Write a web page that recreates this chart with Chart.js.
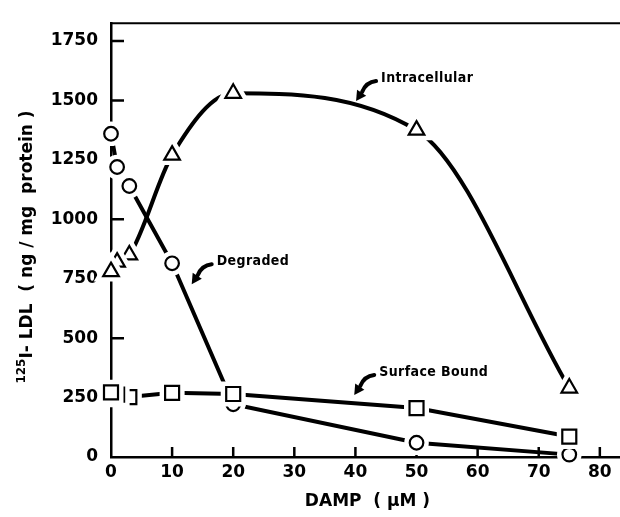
<!DOCTYPE html>
<html>
<head>
<meta charset="utf-8">
<title>125I-LDL vs DAMP</title>
<script src="https://cdn.jsdelivr.net/npm/chart.js@4"></script>
<style>
  html, body { margin: 0; padding: 0; background: #fff; }
  #c { display: block; }
</style>
</head>
<body>
<canvas id="c" width="620" height="517"></canvas>
<script>
// data
const dampX = [0, 1, 3, 10, 20, 50, 75];
const intracellular = [780, 820, 850, 1270, 1530, 1375, 290];
const degraded = [1360, 1220, 1140, 815, 222, 60, 10];
const surfaceBound = [272, 262, 252, 270, 265, 206, 86];
const xTicks = [0, 10, 20, 30, 40, 50, 60, 70, 80];
const yTicks = [0, 250, 500, 750, 1000, 1250, 1500, 1750];
// curve labels: text, x, y (data units, left / middle of the text)
const curveLabels = [
    ['Intracellular', 44.2, 1594],
    ['Degraded', 17.3, 824],
    ['Surface Bound', 43.9, 358]
];

const FONT = '"DejaVu Sans", sans-serif';
const LABEL_FONT = 'bold 14px "DejaVu Sans Condensed", "DejaVu Sans", sans-serif';

function pts(ys) {
    return dampX.map((x, i) => ({ x: x, y: ys[i] }));
}

function shape(ctx, style, x, y) {
    ctx.beginPath();
    if (style === 'circle') {
        ctx.arc(x, y, 6.8, 0, Math.PI * 2);
    } else if (style === 'rect') {
        ctx.rect(x - 7, y - 7, 14, 14);
    } else {
        const r = 9;
        ctx.moveTo(x, y - r);
        ctx.lineTo(x + r * 0.866, y + r / 2);
        ctx.lineTo(x - r * 0.866, y + r / 2);
        ctx.closePath();
    }
}

function arrow(ctx, tx, ty) {
    const sx = tx - 5, sy = ty + 3;
    const ex = tx - 19, ey = ty + 14;
    const px = tx - 25, py = ty + 23;
    ctx.lineWidth = 4;
    ctx.lineCap = 'round';
    ctx.beginPath();
    ctx.moveTo(sx, sy);
    ctx.quadraticCurveTo(tx - 15, ty + 4, ex, ey);
    ctx.stroke();
    const dx = px - ex, dy = py - ey, len = Math.hypot(dx, dy);
    const ux = dx / len, uy = dy / len;
    const bx = px - ux * 10, by = py - uy * 10;
    ctx.beginPath();
    ctx.moveTo(px, py);
    ctx.lineTo(bx - uy * 5.5, by + ux * 5.5);
    ctx.lineTo(bx + uy * 5.5, by - ux * 5.5);
    ctx.closePath();
    ctx.fill();
}

const deco = {
    id: 'deco',
    beforeDatasetsDraw(chart) {
        const { ctx, chartArea: a, scales: { x, y } } = chart;
        ctx.save();
        ctx.strokeStyle = '#000';
        ctx.lineWidth = 2;
        ctx.beginPath();
        ctx.moveTo(a.left - 1, a.top);
        ctx.lineTo(a.right, a.top);
        ctx.stroke();
        // inward tick marks
        ctx.lineWidth = 2.5;
        ctx.beginPath();
        xTicks.forEach(v => {
            if (!v) return;
            const p = x.getPixelForValue(v);
            ctx.moveTo(p, a.bottom);
            ctx.lineTo(p, a.bottom - 10);
        });
        yTicks.forEach(v => {
            if (!v) return;
            const p = y.getPixelForValue(v);
            ctx.moveTo(a.left, p);
            ctx.lineTo(a.left + 13, p);
        });
        ctx.stroke();
        ctx.restore();
    },
    afterDatasetsDraw(chart) {
        const { ctx, chartArea: a, scales: { x, y } } = chart;
        ctx.save();
        // markers, each with a white halo so lines stop short of them
        chart.data.datasets.forEach((ds, i) => {
            const els = chart.getDatasetMeta(i).data.slice().reverse();
            els.forEach(el => {
                ctx.fillStyle = '#fff';
                ctx.strokeStyle = '#fff';
                ctx.lineWidth = 11;
                shape(ctx, ds.marker, el.x, el.y);
                ctx.fill();
                ctx.stroke();
                ctx.strokeStyle = '#000';
                ctx.lineWidth = 2.2;
                shape(ctx, ds.marker, el.x, el.y);
                ctx.fill();
                ctx.stroke();
            });
        });
        // curve labels with arrows
        ctx.fillStyle = '#000';
        ctx.strokeStyle = '#000';
        ctx.font = LABEL_FONT;
        ctx.letterSpacing = '0.4px';
        ctx.textBaseline = 'middle';
        ctx.textAlign = 'left';
        curveLabels.forEach(([t, vx, vy]) => {
            const tx = x.getPixelForValue(vx), ty = y.getPixelForValue(vy);
            ctx.fillText(t, tx, ty);
            arrow(ctx, tx, ty);
        });
        ctx.letterSpacing = '0px';
        // axis titles
        ctx.font = 'bold 17px ' + FONT;
        ctx.textAlign = 'center';
        ctx.fillText('DAMP  ( \u03bcM )', (a.left + a.right) / 2 + 2, 502);

        ctx.translate(28, 247);
        ctx.rotate(-Math.PI / 2);
        const sup = '125', main = 'I- LDL  ( ng / mg  protein )';
        ctx.font = 'bold 12px ' + FONT;
        const wSup = ctx.measureText(sup).width;
        ctx.font = 'bold 17px ' + FONT;
        const wMain = ctx.measureText(main).width;
        const start = -(wSup + wMain) / 2;
        ctx.textAlign = 'left';
        ctx.fillText(main, start + wSup, 0);
        ctx.font = 'bold 12px ' + FONT;
        ctx.fillText(sup, start, -6);
        ctx.restore();
    }
};

const tickFont = { family: FONT, size: 17, weight: 'bold' };

new Chart(document.getElementById('c'), {
    type: 'scatter',
    data: {
        datasets: [
            { label: 'Intracellular', data: pts(intracellular), marker: 'triangle', cubicInterpolationMode: 'monotone' },
            { label: 'Degraded', data: pts(degraded), marker: 'circle', tension: 0 },
            { label: 'Surface Bound', data: pts(surfaceBound), marker: 'rect', tension: 0 }
        ].map(d => Object.assign({
            showLine: true,
            borderColor: '#000',
            borderWidth: 4,
            pointRadius: 0,
            pointHoverRadius: 0,
            clip: false
        }, d))
    },
    options: {
        responsive: false,
        animation: false,
        devicePixelRatio: 1,
        layout: { padding: { top: 14, right: 0, left: 0, bottom: 0 } },
        plugins: { legend: { display: false }, tooltip: { enabled: false } },
        scales: {
            x: {
                type: 'linear',
                min: 0,
                max: 83.3,
                afterBuildTicks: s => { s.ticks = xTicks.map(v => ({ value: v })); },
                afterFit: s => { s.height = 60; },
                grid: { display: false, drawTicks: false },
                border: { display: true, color: '#000', width: 2.5 },
                ticks: { font: tickFont, color: '#000', padding: 5, maxRotation: 0, autoSkip: false, callback: v => String(v) }
            },
            y: {
                type: 'linear',
                min: 0,
                max: 1825,
                afterBuildTicks: s => { s.ticks = yTicks.map(v => ({ value: v })); },
                afterFit: s => { s.width = 111; },
                grid: { display: false, drawTicks: false },
                border: { display: true, color: '#000', width: 2.5 },
                ticks: { font: tickFont, color: '#000', padding: 13, callback: v => String(v) }
            }
        }
    },
    plugins: [deco]
});
</script>
</body>
</html>
